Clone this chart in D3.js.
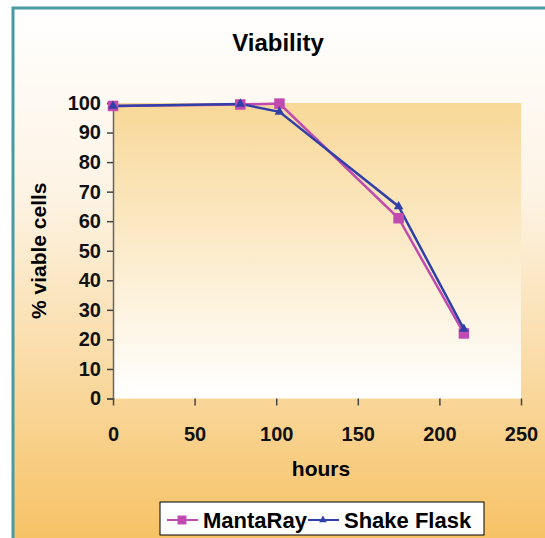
<!DOCTYPE html>
<html>
<head>
<meta charset="utf-8">
<script src="https://cdn.jsdelivr.net/npm/d3@7"></script>
<style>
  body { margin: 0; background: #fff; }
  svg { display: block; font-family: "Liberation Sans", Arial, sans-serif; font-weight: bold; }
</style>
</head>
<body>
<svg width="545" height="538"></svg>
<script>
// chart data
var hours = [0, 78, 102, 175, 215]
var mantaRay = [99, 99.5, 99.8, 61, 22]
var shakeFlask = [99, 99.7, 97, 65, 23.5]
var xTicks = [0, 50, 100, 150, 200, 250]
var yTicks = [0, 10, 20, 30, 40, 50, 60, 70, 80, 90, 100]

var svg = d3.select('svg')

// gradients for the frame and the plot area
var defs = svg.append('defs')
var bg = defs.append('linearGradient').attr('id', 'bg')
  .attr('x1', 0).attr('y1', 0).attr('x2', 0).attr('y2', 1)
bg.append('stop').attr('offset', '0%').attr('stop-color', '#ffffff')
bg.append('stop').attr('offset', '35%').attr('stop-color', '#fdf3e3')
bg.append('stop').attr('offset', '100%').attr('stop-color', '#f6c060')

var pg = defs.append('linearGradient').attr('id', 'pg')
  .attr('x1', 0).attr('y1', 0).attr('x2', 0).attr('y2', 1)
pg.append('stop').attr('offset', '0%').attr('stop-color', '#f8d898')
pg.append('stop').attr('offset', '100%').attr('stop-color', '#ffffff')

svg.append('rect')
  .attr('x', 13).attr('y', 8).attr('width', 545).attr('height', 545)
  .style('fill', 'url(#bg)')
  .style('stroke', '#4a9aa2').style('stroke-width', 3)

var plotLeft = 113, plotRight = 521, plotTop = 103, plotBottom = 398.5

var x = d3.scaleLinear().domain([0, 250]).range([plotLeft, plotRight])
var y = d3.scaleLinear().domain([0, 100]).range([plotBottom, plotTop])

svg.append('rect')
  .attr('x', plotLeft).attr('y', plotTop)
  .attr('width', plotRight - plotLeft).attr('height', plotBottom - plotTop)
  .style('fill', 'url(#pg)')

// title
svg.append('text')
  .attr('x', 278).attr('y', 51)
  .attr('text-anchor', 'middle')
  .style('font-size', '24px')
  .text('Viability')

// axes
var yAxis = svg.append('g')
  .attr('transform', 'translate(' + plotLeft + ',0)')
  .call(d3.axisLeft(y).tickValues(yTicks).tickSize(6).tickPadding(6))
var xAxis = svg.append('g')
  .attr('transform', 'translate(0,' + plotBottom + ')')
  .call(d3.axisBottom(x).tickValues(xTicks).tickSize(7).tickPadding(21))

svg.selectAll('.domain').style('stroke', '#666').style('stroke-width', 1.5)
svg.selectAll('.tick line').style('stroke', '#444').style('stroke-width', 1.5)
svg.selectAll('.tick text')
  .style('font-size', '20px').style('font-weight', 'bold')
  .style('font-family', '"Liberation Sans", Arial, sans-serif')
  .style('fill', '#111')
xAxis.select('.domain').style('stroke', 'none')

svg.append('text')
  .attr('transform', 'translate(46,' + ((plotTop + plotBottom) / 2) + ') rotate(-90)')
  .attr('text-anchor', 'middle')
  .style('font-size', '21px')
  .text('% viable cells')

svg.append('text')
  .attr('x', 321).attr('y', 476)
  .attr('text-anchor', 'middle')
  .style('font-size', '21px')
  .text('hours')

// series
var line = d3.line()
  .x((d) => x(d[0]))
  .y((d) => y(d[1]))

var series = [
  { name: 'MantaRay', values: mantaRay, color: '#c04ab0', marker: 'square' },
  { name: 'Shake Flask', values: shakeFlask, color: '#3040a8', marker: 'triangle' }
]

series.forEach((s) => {
  var pts = hours.map((h, i) => [h, s.values[i]])
  svg.append('path')
    .datum(pts)
    .attr('d', line)
    .style('fill', 'none')
    .style('stroke', s.color)
    .style('stroke-width', 2.5)
})

series.forEach((s) => {
  var pts = hours.map((h, i) => [h, s.values[i]])
  var sym = d3.symbol()
    .type(s.marker === 'square' ? d3.symbolSquare : d3.symbolTriangle)
    .size(s.marker === 'square' ? 110 : 40)
  svg.selectAll(null)
    .data(pts)
    .enter()
    .append('path')
    .attr('d', sym)
    .attr('transform', (d) => 'translate(' + x(d[0]) + ',' + y(d[1]) + ')')
    .style('fill', s.color)
})

// legend
var lg = svg.append('g')
lg.append('rect')
  .attr('x', 160).attr('y', 502).attr('width', 324).attr('height', 33)
  .style('fill', '#fff').style('stroke', '#000').style('stroke-width', 1)

var lx = [167, 308]
series.forEach((s, i) => {
  var g = lg.append('g').attr('transform', 'translate(' + lx[i] + ',520)')
  g.append('line').attr('x1', 0).attr('x2', 31)
    .style('stroke', s.color).style('stroke-width', 2)
  g.append('path')
    .attr('d', d3.symbol()
      .type(s.marker === 'square' ? d3.symbolSquare : d3.symbolTriangle)
      .size(s.marker === 'square' ? 80 : 25))
    .attr('transform', 'translate(15,0)')
    .style('fill', s.color)
  g.append('text')
    .attr('x', 36).attr('y', 8)
    .style('font-size', '22px')
    .text(s.name)
})
</script>
</body>
</html>
